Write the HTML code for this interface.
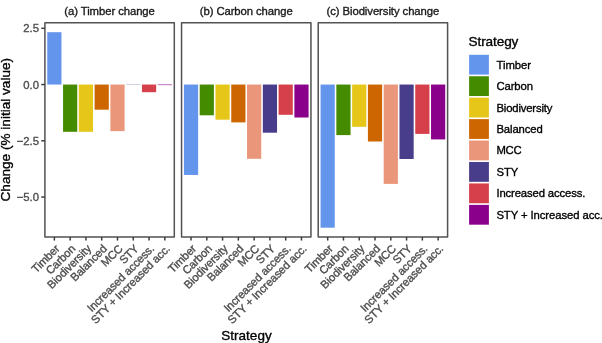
<!DOCTYPE html>
<html><head><meta charset="utf-8"><style>
html,body{margin:0;padding:0;background:#fff;width:602px;height:343px;overflow:hidden}
svg{display:block;font-family:"Liberation Sans",sans-serif}
</style></head><body>
<svg width="602" height="343" viewBox="0 0 602 343">
<rect width="602" height="343" fill="#fff"/>
<rect x="47.27" y="32.20" width="14.20" height="52.35" fill="#6495ED"/>
<rect x="63.05" y="84.55" width="14.20" height="47.25" fill="#458B00"/>
<rect x="78.83" y="84.55" width="14.20" height="47.25" fill="#E6C619"/>
<rect x="94.61" y="84.55" width="14.20" height="25.15" fill="#CD6600"/>
<rect x="110.39" y="84.55" width="14.20" height="46.55" fill="#E9967A"/>
<rect x="126.17" y="84.55" width="14.20" height="0.25" fill="#483D8B"/>
<rect x="141.95" y="84.55" width="14.20" height="7.65" fill="#D6404A"/>
<rect x="157.73" y="84.55" width="14.20" height="0.55" fill="#8B008B"/>
<rect x="44.90" y="22.7" width="129.40" height="214.25" fill="none" stroke="#525252" stroke-width="1.5" stroke-linejoin="round"/>
<line x1="54.37" y1="236.95" x2="54.37" y2="240.55" stroke="#3d3d3d" stroke-width="1.5"/>
<line x1="70.15" y1="236.95" x2="70.15" y2="240.55" stroke="#3d3d3d" stroke-width="1.5"/>
<line x1="85.93" y1="236.95" x2="85.93" y2="240.55" stroke="#3d3d3d" stroke-width="1.5"/>
<line x1="101.71" y1="236.95" x2="101.71" y2="240.55" stroke="#3d3d3d" stroke-width="1.5"/>
<line x1="117.49" y1="236.95" x2="117.49" y2="240.55" stroke="#3d3d3d" stroke-width="1.5"/>
<line x1="133.27" y1="236.95" x2="133.27" y2="240.55" stroke="#3d3d3d" stroke-width="1.5"/>
<line x1="149.05" y1="236.95" x2="149.05" y2="240.55" stroke="#3d3d3d" stroke-width="1.5"/>
<line x1="164.83" y1="236.95" x2="164.83" y2="240.55" stroke="#3d3d3d" stroke-width="1.5"/>
<rect x="183.92" y="84.55" width="14.20" height="90.40" fill="#6495ED"/>
<rect x="199.70" y="84.55" width="14.20" height="30.75" fill="#458B00"/>
<rect x="215.48" y="84.55" width="14.20" height="35.15" fill="#E6C619"/>
<rect x="231.26" y="84.55" width="14.20" height="37.85" fill="#CD6600"/>
<rect x="247.04" y="84.55" width="14.20" height="74.25" fill="#E9967A"/>
<rect x="262.82" y="84.55" width="14.20" height="48.15" fill="#483D8B"/>
<rect x="278.60" y="84.55" width="14.20" height="30.25" fill="#D6404A"/>
<rect x="294.38" y="84.55" width="14.20" height="32.95" fill="#8B008B"/>
<rect x="181.55" y="22.7" width="129.40" height="214.25" fill="none" stroke="#525252" stroke-width="1.5" stroke-linejoin="round"/>
<line x1="191.02" y1="236.95" x2="191.02" y2="240.55" stroke="#3d3d3d" stroke-width="1.5"/>
<line x1="206.80" y1="236.95" x2="206.80" y2="240.55" stroke="#3d3d3d" stroke-width="1.5"/>
<line x1="222.58" y1="236.95" x2="222.58" y2="240.55" stroke="#3d3d3d" stroke-width="1.5"/>
<line x1="238.36" y1="236.95" x2="238.36" y2="240.55" stroke="#3d3d3d" stroke-width="1.5"/>
<line x1="254.14" y1="236.95" x2="254.14" y2="240.55" stroke="#3d3d3d" stroke-width="1.5"/>
<line x1="269.92" y1="236.95" x2="269.92" y2="240.55" stroke="#3d3d3d" stroke-width="1.5"/>
<line x1="285.70" y1="236.95" x2="285.70" y2="240.55" stroke="#3d3d3d" stroke-width="1.5"/>
<line x1="301.48" y1="236.95" x2="301.48" y2="240.55" stroke="#3d3d3d" stroke-width="1.5"/>
<rect x="320.57" y="84.55" width="14.20" height="143.15" fill="#6495ED"/>
<rect x="336.35" y="84.55" width="14.20" height="50.55" fill="#458B00"/>
<rect x="352.13" y="84.55" width="14.20" height="42.25" fill="#E6C619"/>
<rect x="367.91" y="84.55" width="14.20" height="56.95" fill="#CD6600"/>
<rect x="383.69" y="84.55" width="14.20" height="99.35" fill="#E9967A"/>
<rect x="399.47" y="84.55" width="14.20" height="74.45" fill="#483D8B"/>
<rect x="415.25" y="84.55" width="14.20" height="49.35" fill="#D6404A"/>
<rect x="431.03" y="84.55" width="14.20" height="54.85" fill="#8B008B"/>
<rect x="318.20" y="22.7" width="129.40" height="214.25" fill="none" stroke="#525252" stroke-width="1.5" stroke-linejoin="round"/>
<line x1="327.67" y1="236.95" x2="327.67" y2="240.55" stroke="#3d3d3d" stroke-width="1.5"/>
<line x1="343.45" y1="236.95" x2="343.45" y2="240.55" stroke="#3d3d3d" stroke-width="1.5"/>
<line x1="359.23" y1="236.95" x2="359.23" y2="240.55" stroke="#3d3d3d" stroke-width="1.5"/>
<line x1="375.01" y1="236.95" x2="375.01" y2="240.55" stroke="#3d3d3d" stroke-width="1.5"/>
<line x1="390.79" y1="236.95" x2="390.79" y2="240.55" stroke="#3d3d3d" stroke-width="1.5"/>
<line x1="406.57" y1="236.95" x2="406.57" y2="240.55" stroke="#3d3d3d" stroke-width="1.5"/>
<line x1="422.35" y1="236.95" x2="422.35" y2="240.55" stroke="#3d3d3d" stroke-width="1.5"/>
<line x1="438.13" y1="236.95" x2="438.13" y2="240.55" stroke="#3d3d3d" stroke-width="1.5"/>
<line x1="41.30" y1="28.30" x2="44.90" y2="28.30" stroke="#3d3d3d" stroke-width="1.5"/>
<line x1="41.30" y1="84.55" x2="44.90" y2="84.55" stroke="#3d3d3d" stroke-width="1.5"/>
<line x1="41.30" y1="140.80" x2="44.90" y2="140.80" stroke="#3d3d3d" stroke-width="1.5"/>
<line x1="41.30" y1="197.05" x2="44.90" y2="197.05" stroke="#3d3d3d" stroke-width="1.5"/>
<rect x="469.1" y="54.80" width="19.8" height="19.8" fill="#6495ED"/>
<rect x="469.1" y="76.24" width="19.8" height="19.8" fill="#458B00"/>
<rect x="469.1" y="97.68" width="19.8" height="19.8" fill="#E6C619"/>
<rect x="469.1" y="119.12" width="19.8" height="19.8" fill="#CD6600"/>
<rect x="469.1" y="140.56" width="19.8" height="19.8" fill="#E9967A"/>
<rect x="469.1" y="162.00" width="19.8" height="19.8" fill="#483D8B"/>
<rect x="469.1" y="183.44" width="19.8" height="19.8" fill="#D6404A"/>
<rect x="469.1" y="204.88" width="19.8" height="19.8" fill="#8B008B"/>
<g opacity="0.999" style="paint-order:stroke" stroke-width="0.35">
<text x="109.60" y="14.9" font-size="11.3" fill="#1A1A1A" stroke="#1A1A1A" text-anchor="middle" textLength="90.51" lengthAdjust="spacing">(a) Timber change</text>
<text transform="translate(54.67,243.70) rotate(-45)" x="0" y="8" font-size="11.3" fill="#4D4D4D" stroke="#4D4D4D" text-anchor="end" textLength="34.11" lengthAdjust="spacing">Timber</text>
<text transform="translate(70.45,243.70) rotate(-45)" x="0" y="8" font-size="11.3" fill="#4D4D4D" stroke="#4D4D4D" text-anchor="end" textLength="36.39" lengthAdjust="spacing">Carbon</text>
<text transform="translate(86.23,243.70) rotate(-45)" x="0" y="8" font-size="11.3" fill="#4D4D4D" stroke="#4D4D4D" text-anchor="end" textLength="56.74" lengthAdjust="spacing">Biodiversity</text>
<text transform="translate(102.01,243.70) rotate(-45)" x="0" y="8" font-size="11.3" fill="#4D4D4D" stroke="#4D4D4D" text-anchor="end" textLength="46.27" lengthAdjust="spacing">Balanced</text>
<text transform="translate(117.79,243.70) rotate(-45)" x="0" y="8" font-size="11.3" fill="#4D4D4D" stroke="#4D4D4D" text-anchor="end" textLength="25.27" lengthAdjust="spacing">MCC</text>
<text transform="translate(133.57,243.70) rotate(-45)" x="0" y="8" font-size="11.3" fill="#4D4D4D" stroke="#4D4D4D" text-anchor="end" textLength="21.58" lengthAdjust="spacing">STY</text>
<text transform="translate(149.35,243.70) rotate(-45)" x="0" y="8" font-size="11.3" fill="#4D4D4D" stroke="#4D4D4D" text-anchor="end" textLength="89.43" lengthAdjust="spacing">Increased access.</text>
<text transform="translate(165.13,243.70) rotate(-45)" x="0" y="8" font-size="11.3" fill="#4D4D4D" stroke="#4D4D4D" text-anchor="end" textLength="106.19" lengthAdjust="spacing">STY + Increased acc.</text>
<text x="246.25" y="14.9" font-size="11.3" fill="#1A1A1A" stroke="#1A1A1A" text-anchor="middle" textLength="93.00" lengthAdjust="spacing">(b) Carbon change</text>
<text transform="translate(191.32,243.70) rotate(-45)" x="0" y="8" font-size="11.3" fill="#4D4D4D" stroke="#4D4D4D" text-anchor="end" textLength="34.11" lengthAdjust="spacing">Timber</text>
<text transform="translate(207.10,243.70) rotate(-45)" x="0" y="8" font-size="11.3" fill="#4D4D4D" stroke="#4D4D4D" text-anchor="end" textLength="36.39" lengthAdjust="spacing">Carbon</text>
<text transform="translate(222.88,243.70) rotate(-45)" x="0" y="8" font-size="11.3" fill="#4D4D4D" stroke="#4D4D4D" text-anchor="end" textLength="56.74" lengthAdjust="spacing">Biodiversity</text>
<text transform="translate(238.66,243.70) rotate(-45)" x="0" y="8" font-size="11.3" fill="#4D4D4D" stroke="#4D4D4D" text-anchor="end" textLength="46.27" lengthAdjust="spacing">Balanced</text>
<text transform="translate(254.44,243.70) rotate(-45)" x="0" y="8" font-size="11.3" fill="#4D4D4D" stroke="#4D4D4D" text-anchor="end" textLength="25.27" lengthAdjust="spacing">MCC</text>
<text transform="translate(270.22,243.70) rotate(-45)" x="0" y="8" font-size="11.3" fill="#4D4D4D" stroke="#4D4D4D" text-anchor="end" textLength="21.58" lengthAdjust="spacing">STY</text>
<text transform="translate(286.00,243.70) rotate(-45)" x="0" y="8" font-size="11.3" fill="#4D4D4D" stroke="#4D4D4D" text-anchor="end" textLength="89.43" lengthAdjust="spacing">Increased access.</text>
<text transform="translate(301.78,243.70) rotate(-45)" x="0" y="8" font-size="11.3" fill="#4D4D4D" stroke="#4D4D4D" text-anchor="end" textLength="106.19" lengthAdjust="spacing">STY + Increased acc.</text>
<text x="382.90" y="14.9" font-size="11.3" fill="#1A1A1A" stroke="#1A1A1A" text-anchor="middle" textLength="112.82" lengthAdjust="spacing">(c) Biodiversity change</text>
<text transform="translate(327.97,243.70) rotate(-45)" x="0" y="8" font-size="11.3" fill="#4D4D4D" stroke="#4D4D4D" text-anchor="end" textLength="34.11" lengthAdjust="spacing">Timber</text>
<text transform="translate(343.75,243.70) rotate(-45)" x="0" y="8" font-size="11.3" fill="#4D4D4D" stroke="#4D4D4D" text-anchor="end" textLength="36.39" lengthAdjust="spacing">Carbon</text>
<text transform="translate(359.53,243.70) rotate(-45)" x="0" y="8" font-size="11.3" fill="#4D4D4D" stroke="#4D4D4D" text-anchor="end" textLength="56.74" lengthAdjust="spacing">Biodiversity</text>
<text transform="translate(375.31,243.70) rotate(-45)" x="0" y="8" font-size="11.3" fill="#4D4D4D" stroke="#4D4D4D" text-anchor="end" textLength="46.27" lengthAdjust="spacing">Balanced</text>
<text transform="translate(391.09,243.70) rotate(-45)" x="0" y="8" font-size="11.3" fill="#4D4D4D" stroke="#4D4D4D" text-anchor="end" textLength="25.27" lengthAdjust="spacing">MCC</text>
<text transform="translate(406.87,243.70) rotate(-45)" x="0" y="8" font-size="11.3" fill="#4D4D4D" stroke="#4D4D4D" text-anchor="end" textLength="21.58" lengthAdjust="spacing">STY</text>
<text transform="translate(422.65,243.70) rotate(-45)" x="0" y="8" font-size="11.3" fill="#4D4D4D" stroke="#4D4D4D" text-anchor="end" textLength="89.43" lengthAdjust="spacing">Increased access.</text>
<text transform="translate(438.43,243.70) rotate(-45)" x="0" y="8" font-size="11.3" fill="#4D4D4D" stroke="#4D4D4D" text-anchor="end" textLength="106.19" lengthAdjust="spacing">STY + Increased acc.</text>
<text x="39.00" y="32.35" font-size="11.3" fill="#4D4D4D" stroke="#4D4D4D" text-anchor="end">2.5</text>
<text x="39.00" y="88.60" font-size="11.3" fill="#4D4D4D" stroke="#4D4D4D" text-anchor="end">0.0</text>
<text x="39.00" y="144.85" font-size="11.3" fill="#4D4D4D" stroke="#4D4D4D" text-anchor="end">−2.5</text>
<text x="39.00" y="201.10" font-size="11.3" fill="#4D4D4D" stroke="#4D4D4D" text-anchor="end">−5.0</text>
<text transform="translate(10.4,129.7) rotate(-90)" x="0" y="0" font-size="13.6" fill="#000" stroke="#000" text-anchor="middle">Change (% initial value)</text>
<text x="246.5" y="339.8" font-size="13.5" fill="#000" stroke="#000" text-anchor="middle">Strategy</text>
<text x="468.5" y="46.3" font-size="13.6" fill="#000" stroke="#000" textLength="49.89" lengthAdjust="spacing">Strategy</text>
<text x="496.4" y="68.70" font-size="11.3" fill="#000" stroke="#000" textLength="34.74" lengthAdjust="spacing">Timber</text>
<text x="496.4" y="90.14" font-size="11.3" fill="#000" stroke="#000" textLength="36.54" lengthAdjust="spacing">Carbon</text>
<text x="496.4" y="111.58" font-size="11.3" fill="#000" stroke="#000" textLength="56.04" lengthAdjust="spacing">Biodiversity</text>
<text x="496.4" y="133.02" font-size="11.3" fill="#000" stroke="#000" textLength="46.41" lengthAdjust="spacing">Balanced</text>
<text x="496.4" y="154.46" font-size="11.3" fill="#000" stroke="#000" textLength="25.32" lengthAdjust="spacing">MCC</text>
<text x="496.4" y="175.90" font-size="11.3" fill="#000" stroke="#000" textLength="21.98" lengthAdjust="spacing">STY</text>
<text x="496.4" y="197.34" font-size="11.3" fill="#000" stroke="#000" textLength="88.98" lengthAdjust="spacing">Increased access.</text>
<text x="496.4" y="218.78" font-size="11.3" fill="#000" stroke="#000" textLength="106.52" lengthAdjust="spacing">STY + Increased acc.</text>
</g>
</svg>
</body></html>
